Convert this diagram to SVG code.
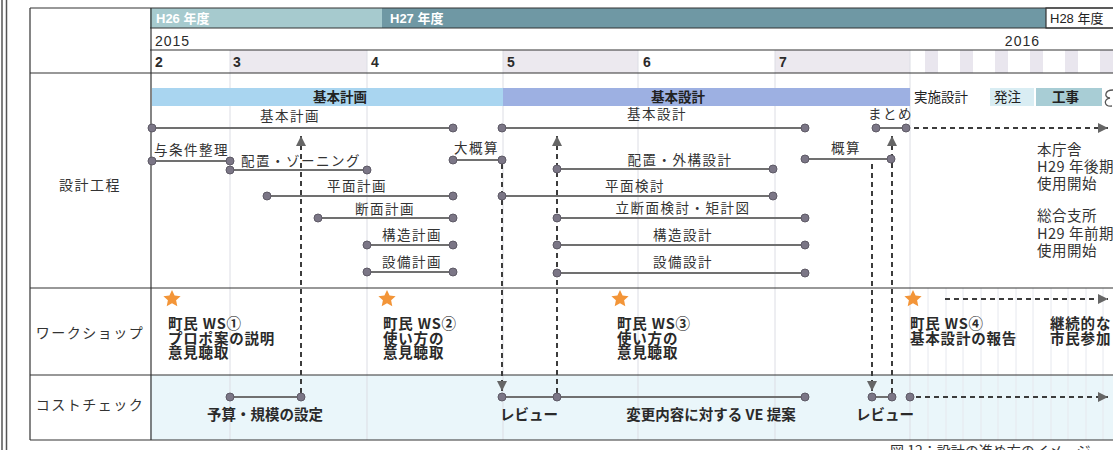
<svg xmlns="http://www.w3.org/2000/svg" width="1113" height="450" viewBox="0 0 1113 450">
<style>
  text { font-family: "Liberation Sans", "Noto Sans CJK JP", sans-serif; fill: #2b2b2b; }
  .jp { font-family: "Noto Sans CJK JP", sans-serif; }
  .hdr { font-size: 13px; font-weight: bold; fill: #fff; }
  .yr { font-size: 14px; letter-spacing: 1px; }
  .mo { font-size: 14px; font-weight: bold; }
  .rowlbl { font-size: 14px; letter-spacing: 1.5px; fill: #333; text-anchor: middle; }
  .lbl { font-size: 13.5px; letter-spacing: 1.5px; fill: #333; }
  .mid { text-anchor: middle; }
  .phase { font-size: 13.5px; font-weight: bold; fill: #222; }
  .ws { font-size: 14.5px; font-weight: bold; fill: #2a2a2a; letter-spacing: 0.8px; }
  .cost { font-size: 14.5px; font-weight: bold; fill: #2a2a2a; }
  .note { font-size: 14.5px; fill: #333; letter-spacing: 0.5px; }
  .tbl { stroke: #333; stroke-width: 1.2; fill: none; }
  .grid { stroke: #dcdde4; stroke-width: 1; }
  .minor { stroke: #e6e8ee; stroke-width: 1; }
  .gl { stroke: #707070; stroke-width: 2; fill: none; }
  .dot { fill: #7b7686; stroke: #5e5a66; stroke-width: 1; }
  .dash { stroke: #3c3c3c; stroke-width: 2; stroke-dasharray: 5 4; fill: none; }
  .star { fill: #f39538; }
</style>
<defs>
  <marker id="arr" markerUnits="userSpaceOnUse" markerWidth="11" markerHeight="11" refX="10" refY="5" orient="auto">
    <path d="M0,0 L10,5 L0,10 Z" fill="#666"/>
  </marker>
  <path id="starShape" d="M0,-9 L2.6,-3.4 L8.6,-2.8 L4.1,1.3 L5.3,7.3 L0,4.3 L-5.3,7.3 L-4.1,1.3 L-8.6,-2.8 L-2.6,-3.4 Z"/>
</defs>

<!-- page background and side border -->
<rect x="0" y="0" width="1113" height="450" fill="#fff"/>
<line x1="2" y1="0" x2="2" y2="450" stroke="#555" stroke-width="1.5"/>
<line x1="6.5" y1="0" x2="6.5" y2="450" stroke="#555" stroke-width="1.5"/>

<!-- header -->
<g id="header">
  <rect x="150" y="8" width="232" height="20" fill="#a6cace"/>
  <rect x="382" y="8" width="664" height="20" fill="#6f98a4"/>
  <rect x="1046" y="8" width="70" height="20" fill="#fff" stroke="#333" stroke-width="1.2"/>
  <text class="hdr" x="156" y="23">H26 年度</text>
  <text class="hdr" x="390" y="23">H27 年度</text>
  <text x="1050" y="23" style="font-size:13px;fill:#222">H28 年度</text>
  <text class="yr" x="155" y="46">2015</text>
  <text class="yr" x="1040" y="46" text-anchor="end">2016</text>
  <rect x="230" y="50" width="137" height="23" fill="#ece9ef"/>
  <rect x="503" y="50" width="135" height="23" fill="#ece9ef"/>
  <rect x="775" y="50" width="135" height="23" fill="#ece9ef"/>
  <rect x="925" y="50" width="13" height="23" fill="#e9e6ee"/>
  <rect x="960" y="50" width="13" height="23" fill="#e9e6ee"/>
  <rect x="995" y="50" width="13" height="23" fill="#e9e6ee"/>
  <rect x="1030" y="50" width="13" height="23" fill="#e9e6ee"/>
  <rect x="1065" y="50" width="13" height="23" fill="#e9e6ee"/>
  <rect x="1100" y="50" width="13" height="23" fill="#e9e6ee"/>
  <text class="mo" x="155" y="67">2</text>
  <text class="mo" x="233" y="67">3</text>
  <text class="mo" x="371" y="67">4</text>
  <text class="mo" x="507" y="67">5</text>
  <text class="mo" x="643" y="67">6</text>
  <text class="mo" x="779" y="67">7</text>
</g>

<!-- cost row background -->
<rect x="150" y="375" width="963" height="65" fill="#eaf6fa"/>

<!-- grid -->
<g id="grid">
  <line class="grid" x1="230" y1="50" x2="230" y2="440"/>
  <line class="grid" x1="367" y1="50" x2="367" y2="440"/>
  <line class="grid" x1="503" y1="50" x2="503" y2="440"/>
  <line class="grid" x1="638" y1="50" x2="638" y2="440"/>
  <line class="grid" x1="775" y1="50" x2="775" y2="440"/>
  <line class="grid" x1="910" y1="50" x2="910" y2="440"/>
  <line class="minor" x1="928" y1="288" x2="928" y2="440"/>
  <line class="minor" x1="946" y1="288" x2="946" y2="440"/>
  <line class="minor" x1="963" y1="288" x2="963" y2="440"/>
  <line class="minor" x1="981" y1="288" x2="981" y2="440"/>
  <line class="minor" x1="998" y1="288" x2="998" y2="440"/>
  <line class="minor" x1="1016" y1="288" x2="1016" y2="440"/>
  <line class="minor" x1="1033" y1="288" x2="1033" y2="440"/>
  <line class="minor" x1="1051" y1="288" x2="1051" y2="440"/>
  <line class="minor" x1="1068" y1="288" x2="1068" y2="440"/>
  <line class="minor" x1="1086" y1="288" x2="1086" y2="440"/>
  <line class="minor" x1="1103" y1="288" x2="1103" y2="440"/>
</g>

<!-- table lines -->
<g id="table">
  <line class="tbl" x1="30" y1="8" x2="1113" y2="8"/>
  <line class="tbl" x1="150" y1="28" x2="1113" y2="28"/>
  <line class="tbl" x1="150" y1="50" x2="1113" y2="50"/>
  <line class="tbl" x1="30" y1="73" x2="1113" y2="73"/>
  <line class="tbl" x1="30" y1="288" x2="1113" y2="288"/>
  <line class="tbl" x1="30" y1="375" x2="1113" y2="375"/>
  <line class="tbl" x1="30" y1="440" x2="1113" y2="440"/>
  <line class="tbl" x1="30" y1="8" x2="30" y2="440"/>
  <line class="tbl" x1="151" y1="8" x2="151" y2="440"/>
</g>

<!-- row labels -->
<g id="row-labels">
  <text class="rowlbl jp" x="90" y="190">設計工程</text>
  <text class="rowlbl jp" x="90" y="338">ワークショップ</text>
  <text class="rowlbl jp" x="90" y="410">コストチェック</text>
</g>

<!-- phase bar -->
<g id="phase-kihon-keikaku">
  <rect x="152" y="88" width="351" height="18" fill="#a9d5f0"/>
  <text class="phase jp mid" x="340" y="102">基本計画</text>
</g>
<g id="phase-kihon-sekkei">
  <rect x="503" y="88" width="407" height="18" fill="#9db0e2"/>
  <text class="phase jp mid" x="678" y="102">基本設計</text>
</g>
<g id="phase-jisshi">
  <text class="jp" x="914" y="102" style="font-size:13.5px;fill:#222">実施設計</text>
</g>
<g id="phase-hacchu">
  <rect x="990" y="88" width="44" height="18" fill="#d9edf3"/>
  <text class="jp" x="994" y="102" style="font-size:13.5px;fill:#222">発注</text>
</g>
<g id="phase-koji">
  <rect x="1036" y="88" width="66" height="18" fill="#a8cdd5"/>
  <text class="phase jp" x="1052" y="102">工事</text>
  <path d="M1113,90 C1104,90 1104,98 1110,98 C1103,99 1104,107 1112,106" fill="none" stroke="#555" stroke-width="1.3"/>
</g>

<!-- connectors (dashed) -->
<g id="connectors">
  <line class="dash" x1="301" y1="393" x2="301" y2="136" marker-end="url(#arr)"/>
  <line class="dash" x1="502" y1="164" x2="502" y2="391" marker-end="url(#arr)"/>
  <line class="dash" x1="557" y1="393" x2="557" y2="136" marker-end="url(#arr)"/>
  <line class="dash" x1="872" y1="164" x2="872" y2="391" marker-end="url(#arr)"/>
  <line class="dash" x1="892" y1="393" x2="892" y2="136" marker-end="url(#arr)"/>
  <line class="dash" x1="914" y1="128" x2="1108" y2="128" marker-end="url(#arr)"/>
  <line class="dash" x1="945" y1="299" x2="1108" y2="299" marker-end="url(#arr)"/>
  <line class="dash" x1="916" y1="397" x2="1108" y2="397" marker-end="url(#arr)"/>
</g>

<!-- design process tasks -->
<g id="task-kihon-keikaku">
  <line class="gl" x1="152" y1="128" x2="453" y2="128"/>
  <circle class="dot" cx="152" cy="128" r="4"/><circle class="dot" cx="453" cy="128" r="4"/>
  <text class="lbl jp mid" x="290" y="121">基本計画</text>
</g>
<g id="task-joken">
  <line class="gl" x1="152" y1="161" x2="230" y2="161"/>
  <circle class="dot" cx="152" cy="161" r="4"/><circle class="dot" cx="230" cy="161" r="4"/>
  <text class="lbl jp" x="154" y="155">与条件整理</text>
</g>
<g id="task-haichi-zoning">
  <line class="gl" x1="230" y1="170" x2="367" y2="170"/>
  <circle class="dot" cx="230" cy="170" r="4"/><circle class="dot" cx="367" cy="170" r="4"/>
  <text class="lbl jp" x="241" y="166">配置・ゾーニング</text>
</g>
<g id="task-dai-gaisan">
  <line class="gl" x1="453" y1="160" x2="502" y2="160"/>
  <circle class="dot" cx="453" cy="160" r="4"/><circle class="dot" cx="502" cy="160" r="4"/>
  <text class="lbl jp" x="454" y="153">大概算</text>
</g>
<g id="task-heimen-keikaku">
  <line class="gl" x1="267" y1="196" x2="453" y2="196"/>
  <circle class="dot" cx="267" cy="196" r="4"/><circle class="dot" cx="453" cy="196" r="4"/>
  <text class="lbl jp mid" x="357" y="191">平面計画</text>
</g>
<g id="task-danmen-keikaku">
  <line class="gl" x1="318" y1="218" x2="453" y2="218"/>
  <circle class="dot" cx="318" cy="218" r="4"/><circle class="dot" cx="453" cy="218" r="4"/>
  <text class="lbl jp mid" x="385" y="214">断面計画</text>
</g>
<g id="task-kozo-keikaku">
  <line class="gl" x1="367" y1="245" x2="453" y2="245"/>
  <circle class="dot" cx="367" cy="245" r="4"/><circle class="dot" cx="453" cy="245" r="4"/>
  <text class="lbl jp mid" x="412" y="240">構造計画</text>
</g>
<g id="task-setsubi-keikaku">
  <line class="gl" x1="367" y1="272" x2="453" y2="272"/>
  <circle class="dot" cx="367" cy="272" r="4"/><circle class="dot" cx="453" cy="272" r="4"/>
  <text class="lbl jp mid" x="412" y="267">設備計画</text>
</g>
<g id="task-kihon-sekkei">
  <line class="gl" x1="502" y1="128" x2="805" y2="128"/>
  <circle class="dot" cx="502" cy="128" r="4"/><circle class="dot" cx="805" cy="128" r="4"/>
  <text class="lbl jp mid" x="657" y="119">基本設計</text>
</g>
<g id="task-haichi-gaiko">
  <line class="gl" x1="557" y1="169" x2="773" y2="169"/>
  <circle class="dot" cx="557" cy="169" r="4"/><circle class="dot" cx="773" cy="169" r="4"/>
  <text class="lbl jp mid" x="680" y="165">配置・外構設計</text>
</g>
<g id="task-heimen-kento">
  <line class="gl" x1="502" y1="196" x2="773" y2="196"/>
  <circle class="dot" cx="502" cy="196" r="4"/><circle class="dot" cx="773" cy="196" r="4"/>
  <text class="lbl jp mid" x="635" y="191">平面検討</text>
</g>
<g id="task-ritsudanmen">
  <line class="gl" x1="557" y1="218" x2="805" y2="218"/>
  <circle class="dot" cx="557" cy="218" r="4"/><circle class="dot" cx="805" cy="218" r="4"/>
  <text class="lbl jp mid" x="683" y="213">立断面検討・矩計図</text>
</g>
<g id="task-kozo-sekkei">
  <line class="gl" x1="557" y1="245" x2="805" y2="245"/>
  <circle class="dot" cx="557" cy="245" r="4"/><circle class="dot" cx="805" cy="245" r="4"/>
  <text class="lbl jp mid" x="683" y="240">構造設計</text>
</g>
<g id="task-setsubi-sekkei">
  <line class="gl" x1="557" y1="273" x2="805" y2="273"/>
  <circle class="dot" cx="557" cy="273" r="4"/><circle class="dot" cx="805" cy="273" r="4"/>
  <text class="lbl jp mid" x="683" y="267">設備設計</text>
</g>
<g id="task-gaisan">
  <line class="gl" x1="805" y1="159" x2="891" y2="159"/>
  <circle class="dot" cx="805" cy="159" r="4"/><circle class="dot" cx="891" cy="159" r="4"/>
  <text class="lbl jp mid" x="846" y="153">概算</text>
</g>
<g id="task-matome">
  <line class="gl" x1="876" y1="128" x2="906" y2="128"/>
  <circle class="dot" cx="876" cy="128" r="4"/><circle class="dot" cx="906" cy="128" r="4"/>
  <text class="lbl jp" x="868" y="119">まとめ</text>
</g>

<!-- right notes -->
<g id="note-honchosha">
  <text class="note jp" x="1037" y="155">本庁舎<tspan x="1037" dy="17">H29 年後期</tspan><tspan x="1037" dy="17">使用開始</tspan></text>
</g>
<g id="note-sogo-shisho">
  <text class="note jp" x="1037" y="221">総合支所<tspan x="1037" dy="17.5">H29 年前期</tspan><tspan x="1037" dy="17">使用開始</tspan></text>
</g>

<!-- workshops -->
<g id="ws1">
  <use href="#starShape" class="star" x="172" y="299"/>
  <text class="ws jp" x="168" y="329">町民 WS①<tspan x="168" dy="14.5">プロポ案の説明</tspan><tspan x="168" dy="14.5">意見聴取</tspan></text>
</g>
<g id="ws2">
  <use href="#starShape" class="star" x="387" y="299"/>
  <text class="ws jp" x="383" y="329">町民 WS②<tspan x="383" dy="14.5">使い方の</tspan><tspan x="383" dy="14.5">意見聴取</tspan></text>
</g>
<g id="ws3">
  <use href="#starShape" class="star" x="620" y="299"/>
  <text class="ws jp" x="617" y="329">町民 WS③<tspan x="617" dy="14.5">使い方の</tspan><tspan x="617" dy="14.5">意見聴取</tspan></text>
</g>
<g id="ws4">
  <use href="#starShape" class="star" x="913" y="299"/>
  <text class="ws jp" x="910" y="329">町民 WS④<tspan x="910" dy="14.5">基本設計の報告</tspan></text>
</g>
<g id="ws-continuous">
  <text class="ws jp" x="1050" y="329">継続的な<tspan x="1050" dy="14.5">市民参加</tspan></text>
</g>

<!-- cost check -->
<g id="cost-yosan">
  <line class="gl" x1="230" y1="397" x2="301" y2="397"/>
  <circle class="dot" cx="230" cy="397" r="4"/><circle class="dot" cx="301" cy="397" r="4"/>
  <text class="cost jp mid" x="265" y="420">予算・規模の設定</text>
</g>
<g id="cost-review1">
  <line class="gl" x1="502" y1="397" x2="805" y2="397"/>
  <circle class="dot" cx="502" cy="397" r="4"/><circle class="dot" cx="557" cy="397" r="4"/><circle class="dot" cx="805" cy="397" r="4"/>
  <text class="cost jp mid" x="529" y="420">レビュー</text>
  <text class="cost jp mid" x="711" y="420">変更内容に対する VE 提案</text>
</g>
<g id="cost-review2">
  <line class="gl" x1="872" y1="397" x2="892" y2="397"/>
  <circle class="dot" cx="872" cy="397" r="4"/><circle class="dot" cx="892" cy="397" r="4"/>
  <circle class="dot" cx="910" cy="397" r="4"/>
  <text class="cost jp mid" x="885" y="420">レビュー</text>
</g>

<text class="note jp" x="890" y="456" style="font-size:14px;letter-spacing:0">図 12：設計の進め方のイメージ</text>
</svg>
